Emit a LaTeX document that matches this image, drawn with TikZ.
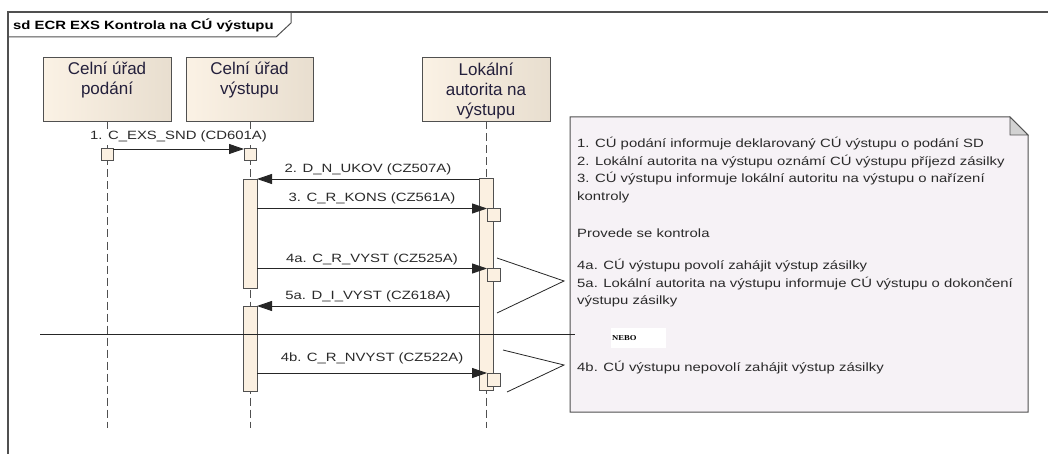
\documentclass[tikz,border=0pt]{standalone}
\usepackage{fontspec}
\setmainfont{Liberation Sans}
\newfontfamily\lblfont[FakeStretch=1.24]{Liberation Sans}
\newfontfamily\nebofont[FakeStretch=1.15]{Liberation Serif}
\usetikzlibrary{arrows.meta}
\definecolor{frm}{HTML}{505050}
\definecolor{hdL}{HTML}{FBF2E5}
\definecolor{hdR}{HTML}{E8DECF}
\definecolor{barfill}{HTML}{FBF0E1}
\definecolor{notefill}{HTML}{F6F2F6}
\definecolor{foldc}{HTML}{D2D2D2}
\definecolor{hdtxt}{HTML}{24203C}
\definecolor{lbltxt}{HTML}{2A2A2A}
\begin{document}
\begin{tikzpicture}[x=1pt,y=-1pt,
  frameline/.style={draw=frm, line width=1.3pt},
  head/.style={draw=frm, line width=1pt, left color=hdL, right color=hdR, minimum width=128pt, minimum height=64pt, inner sep=0pt, outer sep=0pt},
  headtxt/.style={font=\fontsize{17}{20}\selectfont, text=hdtxt, align=center, inner sep=0pt, anchor=north},
  lifeline/.style={draw=frm, line width=0.9pt, dash pattern=on 8pt off 4pt},
  bar/.style={draw=frm, line width=0.9pt, fill=barfill, minimum width=14pt, inner sep=0pt, outer sep=0pt, anchor=north},
  sbox/.style={draw=frm, line width=0.9pt, fill=barfill, minimum width=13pt, minimum height=13pt, inner sep=0pt, outer sep=0pt, anchor=north},
  msg/.style={draw=black!85, line width=0.9pt, -{Triangle[length=15pt,width=10pt]}},
  mlabel/.style={font=\lblfont\fontsize{12}{14}\selectfont, text=lbltxt, inner sep=1pt, fill=white},
  ntxt/.style={font=\lblfont\fontsize{12}{14}\selectfont, text=lbltxt, inner sep=0pt, anchor=base west},
  callout/.style={draw=black!85, line width=0.8pt}
]
\useasboundingbox (0,0) rectangle (1048,454);

% frame
\draw[frameline] (8,454) -- (8,12) -- (1048,12);
\draw[frameline, line width=1pt] (8,37) -- (276,37) -- (291,23) -- (291,12);
\node[font=\lblfont\bfseries\fontsize{12}{14}\selectfont, anchor=west, inner sep=0pt] (title) at (13,25) {sd ECR EXS Kontrola na CÚ výstupu};

% heads
\node[head] (h1) at (107,89.5) {};
\node[head, minimum width=127pt] (h2) at (249.5,89.5) {};
\node[head] (h3) at (486,89.5) {};
\node[headtxt] (t1) at (107,61.5) {Celní úřad\\podání};
\node[headtxt] (t2) at (249.5,61.5) {Celní úřad\\výstupu};
\node[headtxt] (t3) at (486,62.5) {Lokální\\autorita na\\výstupu};

% lifeline ends
\coordinate (e1) at (107,428);
\coordinate (e2) at (250,428);
\coordinate (e3) at (486,428);
\draw[lifeline] (h1.south) -- (e1);
\draw[lifeline] (h2.south -| e2) -- (e2);
\draw[lifeline] (h3.south) -- (e3);

% activations
\node[sbox, minimum width=12pt, minimum height=12pt] (s1) at (107,148) {};
\node[sbox, minimum width=12pt, minimum height=12pt] (s2) at (250,148) {};
\node[bar, minimum height=109pt] (a2) at (250,179) {};
\node[bar, minimum height=85pt] (b2) at (250,306) {};
\node[bar, minimum height=212pt] (a3) at (486,178.5) {};
\node[sbox] (k1) at (493.5,208.5) {};
\node[sbox] (k2) at (493.5,268.5) {};
\node[sbox] (k3) at (493.5,373) {};

% messages
\draw[msg] ([yshift=-1pt]s1.north east) -- ([yshift=-1pt]s2.north west)
  node[mlabel, midway, yshift=13pt] (l1) {1. C\_EXS\_SND (CD601A)};
\draw[msg] ([yshift=-0.5pt]a3.north west) -- (a2.north east)
  node[mlabel, midway, yshift=10pt] (l2) {2. D\_N\_UKOV (CZ507A)};
\draw[msg] (a2.east |- k1.north west) -- (k1.north west)
  node[mlabel, midway, yshift=10pt] (l3) {3. C\_R\_KONS (CZ561A)};
\draw[msg] (a2.east |- k2.north west) -- (k2.north west)
  node[mlabel, midway, yshift=9.5pt] (l4) {4a. C\_R\_VYST (CZ525A)};
\draw[msg] (a3.west |- b2.north east) -- (b2.north east)
  node[mlabel, midway, yshift=10pt] (l5) {5a. D\_I\_VYST (CZ618A)};
\draw[msg] (b2.east |- k3.north west) -- (k3.north west)
  node[mlabel, midway, yshift=14.5pt] (l6) {4b. C\_R\_NVYST (CZ522A)};

% note
\coordinate (nw) at (570,117);
\coordinate (ne) at (1028,412);
\draw[draw=frm, line width=1pt, fill=notefill] (570,117) -- (1010,117) -- (1028,135) -- (1028,412) -- (570,412) -- cycle;
\draw[draw=frm, line width=0.8pt, fill=foldc] (1010,117) -- (1028,135) -- (1010,135) -- cycle;
\node[ntxt] (n1) at (577,147.5) {1. CÚ podání informuje deklarovaný CÚ výstupu o podání SD};
\node[ntxt] (n2) at (577,165.2) {2. Lokální autorita na výstupu oznámí CÚ výstupu příjezd zásilky};
\node[ntxt] (n3) at (577,182.9) {3. CÚ výstupu informuje lokální autoritu na výstupu o nařízení};
\node[ntxt] (n4) at (577,200.6) {kontroly};
\node[ntxt] (n5) at (577,237) {Provede se kontrola};
\node[ntxt] (n6) at (577,269.5) {4a. CÚ výstupu povolí zahájit výstup zásilky};
\node[ntxt] (n7) at (577,287) {5a. Lokální autorita na výstupu informuje CÚ výstupu o dokončení};
\node[ntxt] (n8) at (577,304.5) {výstupu zásilky};
\node[ntxt] (n9) at (577,371) {4b. CÚ výstupu nepovolí zahájit výstup zásilky};

% callouts
\coordinate (c1a) at (497,258);
\coordinate (c1p) at (564,281);
\coordinate (c1b) at (497,313);
\coordinate (c2a) at (503,350);
\coordinate (c2p) at (564,365);
\coordinate (c2b) at (507,392);
\draw[callout] (c1a) -- (c1p) -- (c1b);
\draw[callout] (c2a) -- (c2p) -- (c2b);

% divider
\coordinate (d1) at (40,334.5);
\coordinate (d2) at (575,334.5);
\draw[draw=black!85, line width=0.9pt] (d1) -- (d2);
\fill[white] (611,328) rectangle (666,348);
\node[font=\nebofont\bfseries\fontsize{7.5}{9}\selectfont, anchor=base west, inner sep=0pt] (nebo) at (612,340) {NEBO};
\end{tikzpicture}
\end{document}
